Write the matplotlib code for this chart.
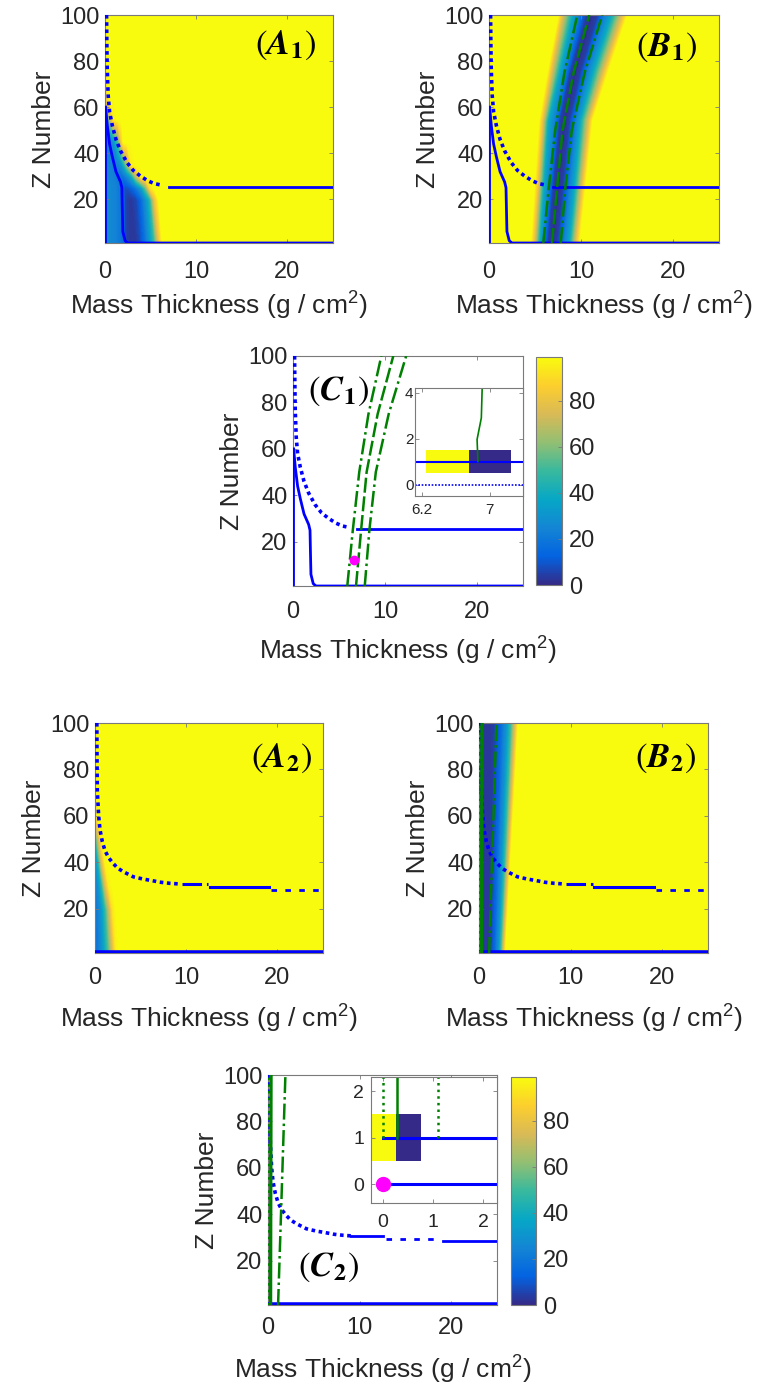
import matplotlib.pyplot as plt
import numpy as np
from matplotlib.colors import LinearSegmentedColormap, Normalize
from matplotlib.cm import ScalarMappable

plt.rcParams['font.family'] = ['Liberation Sans', 'DejaVu Sans']
plt.rcParams['mathtext.fontset'] = 'stix'

# ---------------- data ----------------
# colour field A1: values on a coarse grid (x = mass thickness, z = Z number)
a1_x = [0, 0.5, 1.0, 1.5, 1.9, 2.1, 2.5, 3.0, 3.5, 4.0, 4.5, 5.0, 5.5, 6.0, 6.4, 25]
a1_z = [1, 20, 25, 30, 35, 45, 55, 65, 100]
a1_v = [
    [28, 26, 24, 20, 15, 6, 3, 2, 3, 8, 18, 32, 50, 80, 99, 99],
    [28, 26, 24, 20, 15, 6, 3, 3, 6, 14, 28, 45, 80, 99, 99, 99],
    [28, 26, 24, 20, 12, 8, 8, 12, 20, 32, 55, 90, 99, 99, 99, 99],
    [26, 25, 22, 18, 16, 18, 25, 40, 70, 95, 99, 99, 99, 99, 99, 99],
    [25, 24, 22, 24, 30, 40, 65, 95, 99, 99, 99, 99, 99, 99, 99, 99],
    [24, 22, 28, 50, 85, 99, 99, 99, 99, 99, 99, 99, 99, 99, 99, 99],
    [30, 60, 95, 99, 99, 99, 99, 99, 99, 99, 99, 99, 99, 99, 99, 99],
    [80, 99, 99, 99, 99, 99, 99, 99, 99, 99, 99, 99, 99, 99, 99, 99],
    [99, 99, 99, 99, 99, 99, 99, 99, 99, 99, 99, 99, 99, 99, 99, 99],
]

# colour field B1: a tilted valley, x positions of the colour steps per row
b1_z = [1, 54, 75, 100]
b1_x = [
    [0, 4.4, 4.8, 5.4, 5.9, 6.3, 6.9, 7.5, 8.1, 8.9, 9.6, 10.0, 25],
    [0, 5.3, 5.7, 6.3, 7.2, 7.6, 8.2, 8.8, 9.4, 10.1, 11.0, 11.4, 25],
    [0, 6.2, 6.6, 7.5, 8.3, 8.7, 9.35, 10.0, 10.6, 11.5, 12.6, 13.1, 25],
    [0, 7.4, 7.8, 8.9, 9.8, 10.5, 11.2, 11.9, 12.5, 13.5, 14.7, 15.2, 25],
]
b1_v = [99, 99, 80, 40, 18, 4, 1, 4, 18, 40, 80, 99, 99]

# colour field A2
a2_x = [0, 0.4, 0.8, 1.2, 1.6, 2.0, 2.4, 2.8, 25]
a2_z = [1, 20, 30, 40, 50, 60, 100]
a2_v = [
    [18, 20, 28, 40, 55, 75, 95, 99, 99],
    [18, 22, 32, 48, 70, 92, 99, 99, 99],
    [20, 28, 45, 75, 95, 99, 99, 99, 99],
    [22, 40, 75, 97, 99, 99, 99, 99, 99],
    [35, 70, 97, 99, 99, 99, 99, 99, 99],
    [80, 99, 99, 99, 99, 99, 99, 99, 99],
    [99, 99, 99, 99, 99, 99, 99, 99, 99],
]

# colour field B2
b2_z = [1, 100]
b2_x = [
    [0, 0.4, 0.9, 1.3, 1.8, 2.2, 2.5, 2.8, 3.0, 25],
    [0, 0.4, 1.0, 1.7, 2.5, 3.1, 3.6, 4.1, 4.4, 25],
]
b2_v = [8, 3, 2, 4, 15, 30, 50, 80, 99, 99]

# boundary curves, case 1 (A1, B1, C1)
p1_wall_x = [0.05, 0.05]
p1_wall_z = [1, 60]
p1_dot_x = [0.17, 0.2, 0.24, 0.35, 0.5, 0.8, 1.2, 1.7, 2.4, 3.1, 3.9, 4.7, 5.4, 6.0]
p1_dot_z = [100, 88, 77, 65, 58, 52, 46, 41, 36, 32.5, 30, 28, 26.8, 26.3]
p1_shelf_x = [7.0, 25]
p1_shelf_z = [25.5, 25.5]
p1_drop_x = [0.07, 0.25, 0.5, 0.8, 1.2, 1.7, 1.85, 1.9, 1.95, 2.2, 2.5, 25]
p1_drop_z = [60, 52, 44, 38.5, 32, 27.5, 25, 15, 6, 2, 1, 1]
p1_green_z = [1, 25, 50, 75, 100]
p1_green_lo = [5.9, 6.5, 7.2, 8.2, 9.6]
p1_green_mid = [6.85, 7.4, 8.0, 9.2, 10.9]
p1_green_hi = [7.8, 8.3, 9.0, 10.4, 12.3]
c1_point = (6.6, 12)

# inset of C1
c1_cell_x = [6.25, 6.75, 7.25]
c1_cell_z = [0.5, 1.5]
c1_cell_v = [[99, 0]]
c1_in_green_x = [6.86, 6.85, 6.90, 6.91]
c1_in_green_z = [1.0, 1.96, 2.9, 4.2]

# boundary curves, case 2 (A2, B2, C2)
p2_dot_x = [0.2, 0.22, 0.25, 0.4, 0.55, 0.8, 1.1, 1.5, 2.0, 2.5, 3.1, 3.7, 4.2, 5.3, 6.2, 7.1, 8.2, 9.3]
p2_dot_z = [100, 85, 71, 60, 54, 49, 45, 42, 39.5, 37.5, 36, 34.8, 33.8, 32.8, 32.2, 31.5, 31, 30.7]
p2_dd_x, p2_dd_z = [9.5, 12.4], [30.5, 30.5]
p2_solid_x, p2_solid_z = [12.6, 19.1], [29.5, 29.5]
p2_dash_x, p2_dash_z = [19.3, 25], [28.3, 28.3]
c2_solid1_x, c2_solid1_z = [9.1, 12.6], [30.7, 30.7]
c2_dash_x, c2_dash_z = [12.9, 18.6], [29.3, 29.3]
c2_solid2_x, c2_solid2_z = [19.1, 25], [28.6, 28.6]
p2_floor_x, p2_floor_z = [0, 25], [1, 1]
p2_green_z = [1, 50, 100]
p2_green_lo = [0.02, 0.02, 0.02]
p2_green_mid = [0.28, 0.3, 0.33]
p2_green_hi = [1.1, 1.5, 1.9]

# inset of C2
c2_cell_x = [-0.25, 0.25, 0.75]
c2_cell_z = [0.5, 1.5]
c2_cell_v = [[99, 0]]
c2_in_green_x = [0.0, 0.28, 1.1]
c2_in_top = 2.3
c2_point = (0, 0)

cbar_ticks = [0, 20, 40, 60, 80]
x_ticks = [0, 10, 20]
z_ticks = [20, 40, 60, 80, 100]

# ---------------- style ----------------
PARULA = LinearSegmentedColormap.from_list(
    'parula', ['#352a87', '#0363e1', '#1485d4', '#06a7c6', '#38b99e',
               '#92bf73', '#d9ba56', '#fcce2e', '#f9fb0e'])
VMIN, VMAX = 0, 99
LEVELS = np.linspace(VMIN, VMAX + 0.5, 90)
BLUE = '#0000ff'
GREEN = '#008000'
TXT = '#262626'
EDGE = '#7a7a7a'
TICK_FS = 17
LABEL_FS = 19

W, H = 762, 1390
fig = plt.figure(figsize=(W / 100, H / 100), dpi=100)


def box(l, t, r, b):
    return [l / W, 1 - b / H, (r - l) / W, (b - t) / H]


def frame(ax, xpad, ypad, fs=TICK_FS):
    ax.tick_params(direction='in', length=3, width=0.6, color=EDGE,
                   labelcolor=TXT, labelsize=fs, top=True, right=True)
    ax.tick_params(axis='x', pad=xpad)
    ax.tick_params(axis='y', pad=ypad)
    for s in ax.spines.values():
        s.set_color(EDGE)
        s.set_linewidth(0.8)


def main_axes(rect, xpad, lpad, tag, tag_xy):
    ax = fig.add_axes(box(*rect))
    ax.set_xlim(0, 25)
    ax.set_ylim(1, 100)
    ax.set_xticks(x_ticks)
    ax.set_yticks(z_ticks)
    frame(ax, xpad, 4)
    ax.set_xlabel(r'Mass Thickness (g / cm$\mathregular{^2}$)', fontsize=LABEL_FS,
                  color=TXT, labelpad=lpad)
    ax.set_ylabel('Z Number', fontsize=LABEL_FS, color=TXT, labelpad=3)
    ax.text(*tag_xy, tag, fontsize=25, ha='center', va='center', color='black',
            zorder=10)
    return ax


def field_grid(xs, zs, vs):
    X, Z = np.meshgrid(xs, zs)
    return X, Z, np.array(vs, dtype=float)


def field_rows(xrows, zs, v):
    X = np.array(xrows, dtype=float)
    Z = np.repeat(np.array(zs, dtype=float)[:, None], X.shape[1], axis=1)
    V = np.tile(np.array(v, dtype=float), (X.shape[0], 1))
    return X, Z, V


def draw_field(ax, X, Z, V):
    cs = ax.contourf(X, Z, V, levels=LEVELS, cmap=PARULA, vmin=VMIN, vmax=VMAX,
                     zorder=1)
    cs.set_edgecolor('face')


def case1_lines(ax, greens=False, point=False):
    ax.plot(p1_wall_x, p1_wall_z, color=BLUE, lw=2, zorder=3)
    ax.plot(p1_dot_x, p1_dot_z, color=BLUE, lw=2.6, ls=(0, (1, 1)), zorder=3)
    ax.plot(p1_shelf_x, p1_shelf_z, color=BLUE, lw=2, zorder=3)
    ax.plot(p1_drop_x, p1_drop_z, color=BLUE, lw=2, zorder=3)
    if greens:
        ax.plot(p1_green_lo, p1_green_z, color=GREEN, lw=1.8, ls='-.', zorder=4)
        ax.plot(p1_green_mid, p1_green_z, color=GREEN, lw=1.8, ls=(0, (6, 1.5)), zorder=4)
        ax.plot(p1_green_hi, p1_green_z, color=GREEN, lw=1.8, ls='-.', zorder=4)
    if point:
        ax.plot(*c1_point, 'o', color='#ff00ff', ms=6, zorder=5)


def case2_lines(ax, greens=False, c2=False):
    ax.plot(p2_dot_x, p2_dot_z, color=BLUE, lw=2.6, ls=(0, (1, 1)), zorder=3)
    if c2:
        ax.plot(c2_solid1_x, c2_solid1_z, color=BLUE, lw=2, zorder=3)
        ax.plot(c2_dash_x, c2_dash_z, color=BLUE, lw=2, ls=(0, (2, 3)), zorder=3)
        ax.plot(c2_solid2_x, c2_solid2_z, color=BLUE, lw=2, zorder=3)
    else:
        ax.plot(p2_dd_x, p2_dd_z, color=BLUE, lw=2.2, ls='-.', zorder=3)
        ax.plot(p2_solid_x, p2_solid_z, color=BLUE, lw=2.2, zorder=3)
        ax.plot(p2_dash_x, p2_dash_z, color=BLUE, lw=2, ls=(0, (2, 3)), zorder=3)
    ax.plot(p2_floor_x, p2_floor_z, color=BLUE, lw=4, zorder=3)
    if greens:
        ax.plot(p2_green_lo, p2_green_z, color=GREEN, lw=1.8, ls=':', zorder=4)
        ax.plot(p2_green_mid, p2_green_z, color=GREEN, lw=2.4, zorder=4)
        ax.plot(p2_green_hi, p2_green_z, color=GREEN, lw=1.8, ls='-.', zorder=4)


def colorbar(rect):
    cax = fig.add_axes(box(*rect))
    sm = ScalarMappable(norm=Normalize(VMIN, VMAX), cmap=PARULA)
    cb = fig.colorbar(sm, cax=cax, ticks=cbar_ticks)
    cb.outline.set_edgecolor(EDGE)
    cb.outline.set_linewidth(0.8)
    cax.tick_params(direction='in', length=3, width=0.6, color=EDGE,
                    labelcolor=TXT, labelsize=TICK_FS, pad=5)
    return cb


# ---------------- top group ----------------
ax = main_axes((105, 15, 333, 243), 13, 5, r'$(\mathbfit{A}_{\mathbf{1}})$', (19.8, 87))
draw_field(ax, *field_grid(a1_x, a1_z, a1_v))
case1_lines(ax)

ax = main_axes((489, 15, 719, 243), 13, 5, r'$(\mathbfit{B}_{\mathbf{1}})$', (19.3, 86))
draw_field(ax, *field_rows(b1_x, b1_z, b1_v))
case1_lines(ax, greens=True)

ax = main_axes((293, 356, 523, 586), 10.5, 9, r'$(\mathbfit{C}_{\mathbf{1}})$', (4.9, 85))
case1_lines(ax, greens=True, point=True)
colorbar((536, 357, 562, 585))

ins = fig.add_axes(box(415, 388, 523, 496))
ins.pcolormesh(c1_cell_x, c1_cell_z, c1_cell_v, cmap=PARULA, vmin=VMIN, vmax=VMAX)
ins.plot([6.12, 7.39], [1, 1], color=BLUE, lw=1.5)
ins.plot([6.12, 7.39], [0, 0], color=BLUE, lw=1.2, ls=(0, (1, 1)))
ins.plot(c1_in_green_x, c1_in_green_z, color=GREEN, lw=1.2)
ins.set_xlim(6.12, 7.39)
ins.set_ylim(-0.5, 4.2)
ins.set_xticks([6.2, 7])
ins.set_xticklabels(['6.2', '7'])
ins.set_yticks([0, 2, 4])
frame(ins, 5, 1, fs=11)

# ---------------- bottom group ----------------
ax = main_axes((95, 723, 323, 953), 10, 10, r'$(\mathbfit{A}_{\mathbf{2}})$', (20.4, 85))
draw_field(ax, *field_grid(a2_x, a2_z, a2_v))
case2_lines(ax)

ax = main_axes((479, 723, 708, 953), 10, 10, r'$(\mathbfit{B}_{\mathbf{2}})$', (20.4, 85))
draw_field(ax, *field_rows(b2_x, b2_z, b2_v))
case2_lines(ax, greens=True)

ax = main_axes((268, 1075, 497, 1305), 8.5, 11, r'$(\mathbfit{C}_{\mathbf{2}})$', (6.6, 17))
case2_lines(ax, greens=True, c2=True)
colorbar((511, 1077, 536, 1305))

ins = fig.add_axes(box(371, 1077, 497, 1203))
ins.pcolormesh(c2_cell_x, c2_cell_z, c2_cell_v, cmap=PARULA, vmin=VMIN, vmax=VMAX)
ins.plot([0, 2.3], [1, 1], color=BLUE, lw=2.2)
ins.plot([0, 2.3], [0, 0], color=BLUE, lw=2.2)
ins.plot([c2_in_green_x[0]] * 2, [1, c2_in_top], color=GREEN, lw=1.8, ls=':')
ins.plot([c2_in_green_x[1]] * 2, [1, c2_in_top], color=GREEN, lw=1.8)
ins.plot([c2_in_green_x[2]] * 2, [1, c2_in_top], color=GREEN, lw=1.8, ls=':')
ins.plot(*c2_point, 'o', color='#ff00ff', ms=10, zorder=5)
ins.set_xlim(-0.24, 2.27)
ins.set_ylim(-0.4, 2.3)
ins.set_xticks([0, 1, 2])
ins.set_yticks([0, 1, 2])
frame(ins, 8, 5, fs=14)

fig.savefig('out.png', dpi=100)
